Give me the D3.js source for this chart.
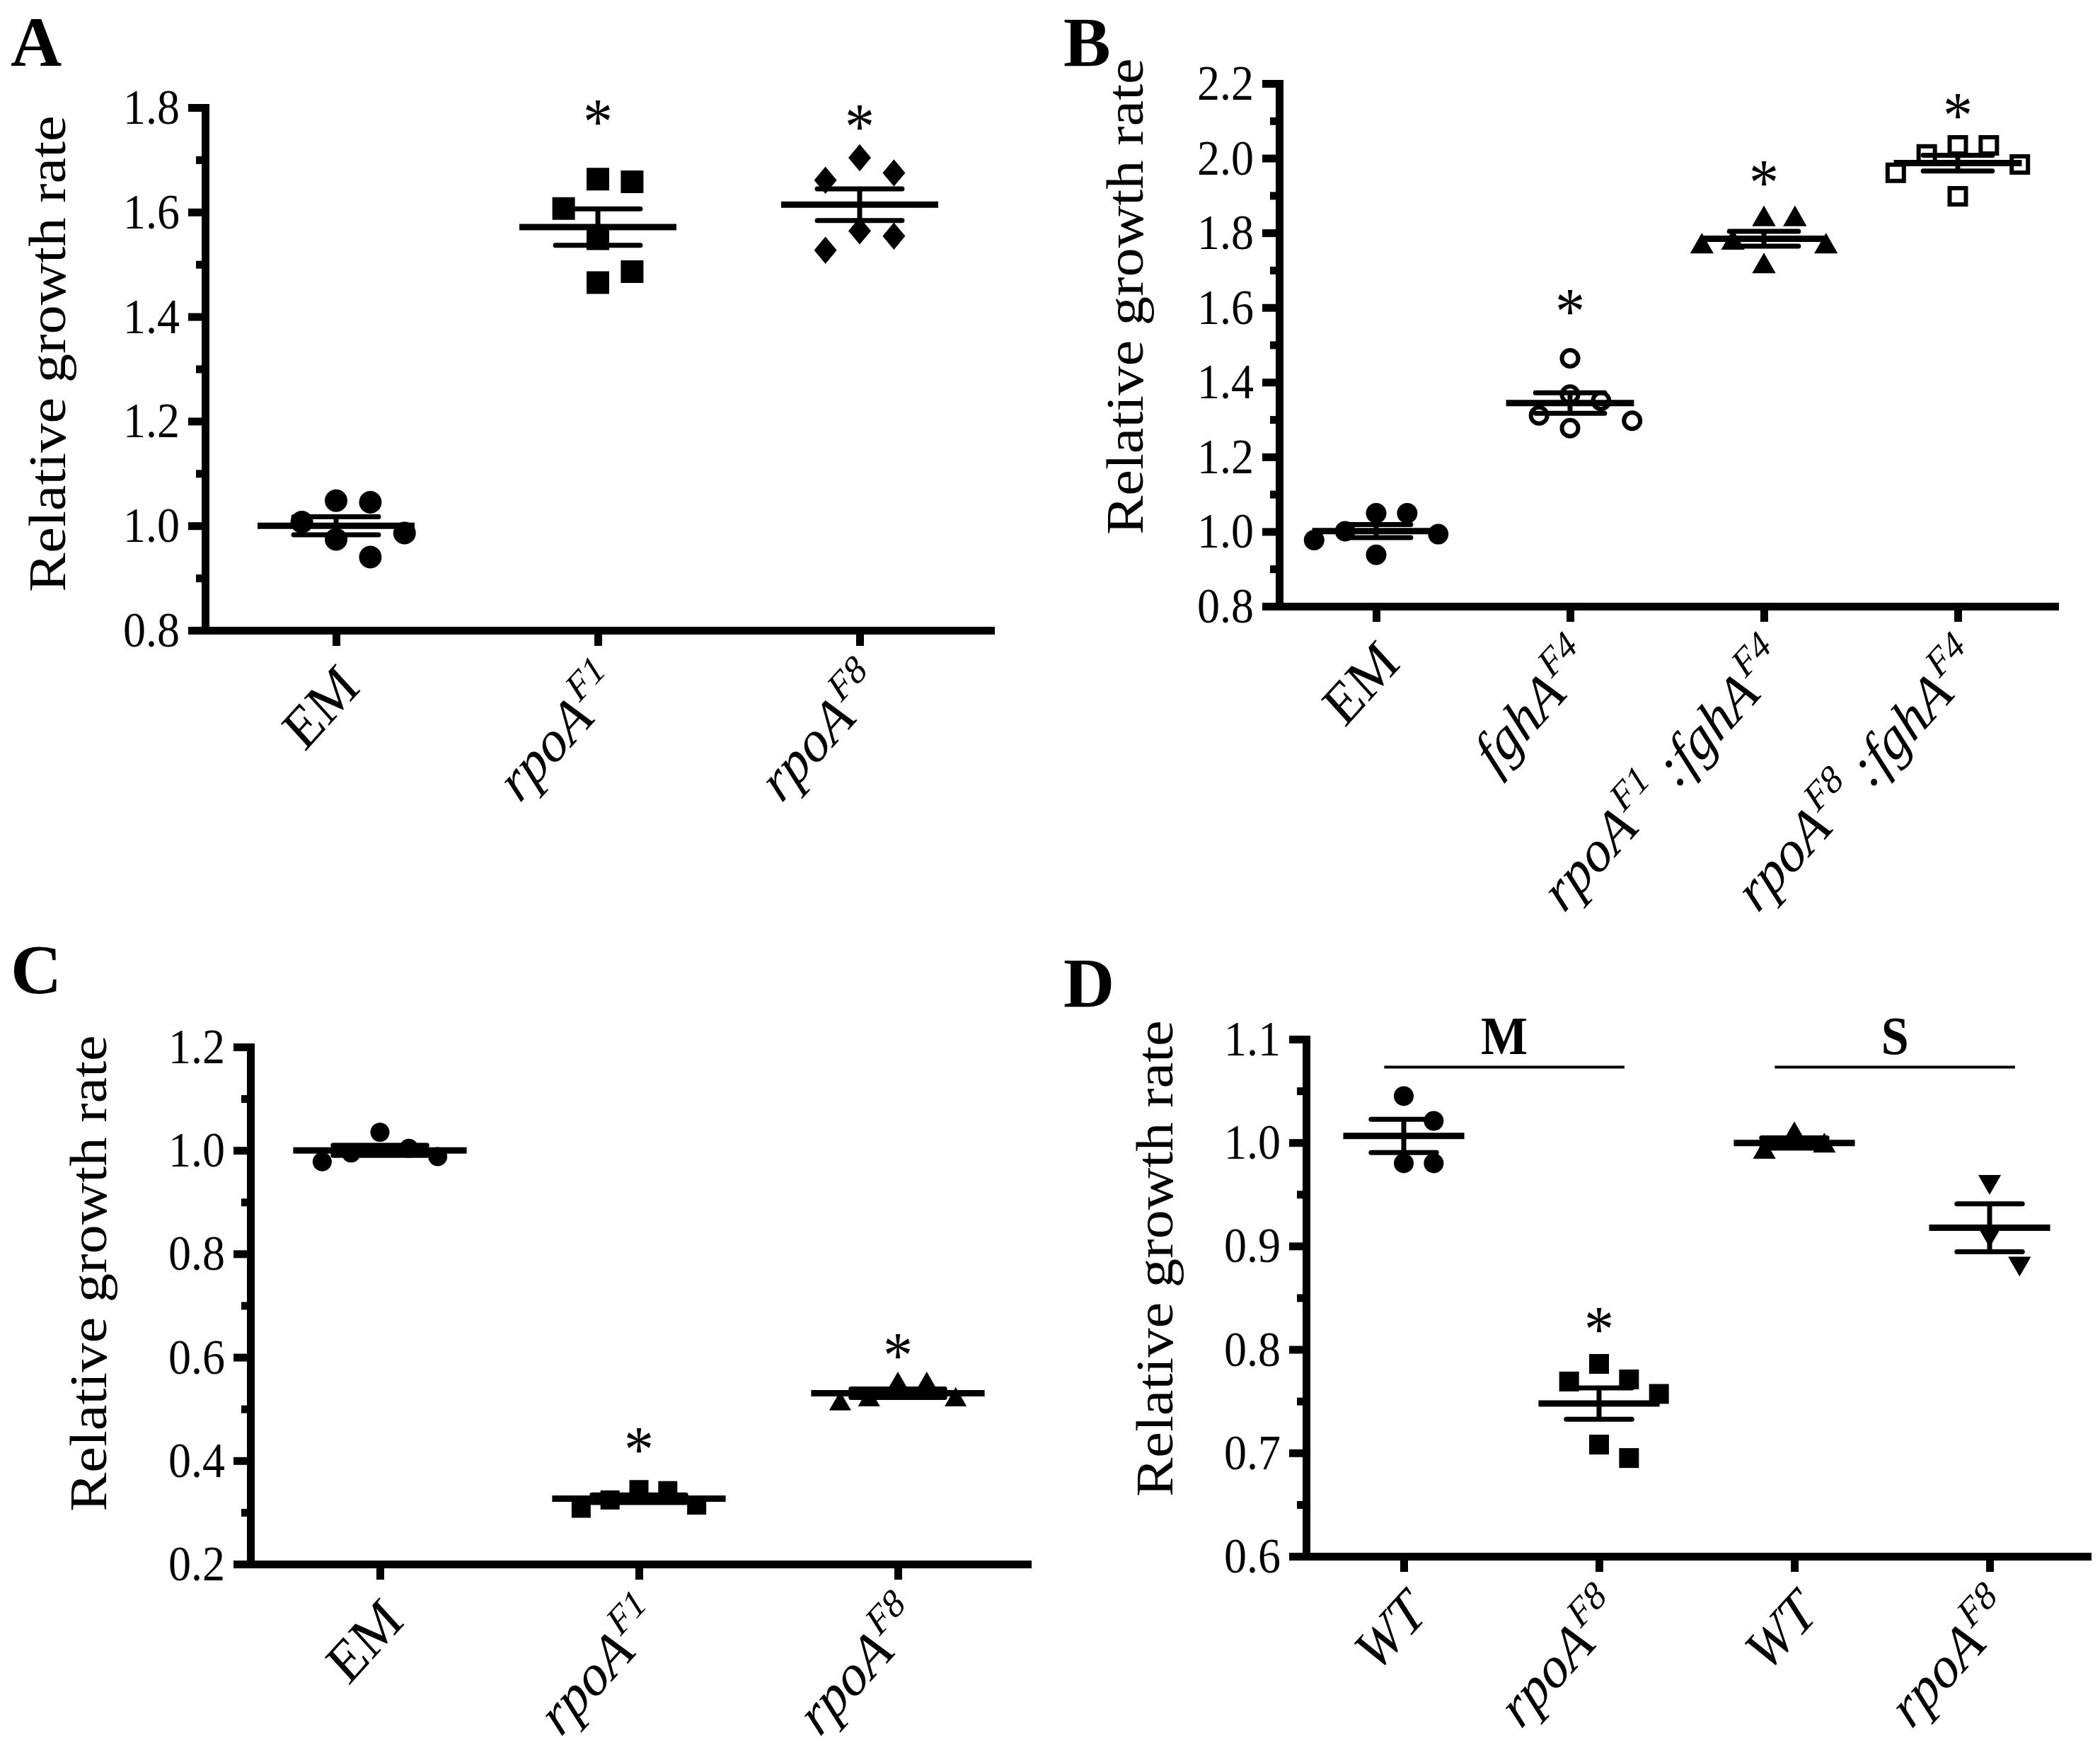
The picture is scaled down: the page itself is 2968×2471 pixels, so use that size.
<!DOCTYPE html>
<html>
<head>
<meta charset="utf-8">
<script src="https://cdn.jsdelivr.net/npm/d3@7"></script>
<style>
body { margin: 0; background: #fff; }
</style>
</head>
<body>
<script>
// relative growth rate, one value per replicate

// panel A
var catsA = ["EM", "rpoA^F1", "rpoA^F8"];
var emA = [1.045, 1.048, 1.007, 0.986, 0.974, 0.940];
var f1A = [1.658, 1.663, 1.607, 1.549, 1.486, 1.465];
var f8A = [1.704, 1.675, 1.661, 1.564, 1.554, 1.527];
var sigA = [null, 1.79, 1.78];

// panel B
var catsB = ["EM", "fghA^F4", "rpoA^F1 :fghA^F4", "rpoA^F8 :fghA^F4"];
var emB = [0.993, 1.049, 1.049, 1.001, 0.938, 0.977];
var fghB = [1.464, 1.367, 1.350, 1.311, 1.297, 1.277];
var f1fghB = [1.840, 1.840, 1.767, 1.777, 1.767, 1.714];
var f8fghB = [2.034, 2.010, 2.034, 1.983, 1.961, 1.898];
var sigB = [null, 1.614, 1.958, 2.138];

// panel C
var catsC = ["EM", "rpoA^F1", "rpoA^F8"];
var emC = [1.035, 0.995, 0.978, 0.988, 1.004];
var f1C = [0.344, 0.324, 0.308, 0.314, 0.342];
var f8C = [0.550, 0.520, 0.512, 0.520, 0.550];
var sigC = [null, 0.438, 0.62];

// panel D
var catsD = ["WT", "rpoA^F8", "WT", "rpoA^F8"];
var wtM = [1.045, 1.021, 0.980, 0.980];
var f8M = [0.786, 0.771, 0.769, 0.757, 0.708, 0.695];
var wtS = [1.009, 0.992, 0.998];
var f8S = [0.961, 0.910, 0.882];
var sigD = [null, 0.828, null, null];
var bracketsD = [{ label: "M", from: 0, to: 1, at: 1.073 }, { label: "S", from: 2, to: 3, at: 1.073 }];

var FONT = "'Liberation Serif', 'Times New Roman', serif";
var W = 2968, H = 2471;
var STRETCH = 1.1; // the figure's text is a little taller than it is wide

var svg = d3.select("body").append("svg")
    .attr("width", W)
    .attr("height", H)
    .style("background", "#fff");

// marker shapes, size given as (diameter)^2
var circleSym = { draw: function (ctx, size) { var r = Math.sqrt(size) / 2; ctx.moveTo(r, 0); ctx.arc(0, 0, r, 0, 2 * Math.PI); } };
var squareSym = { draw: function (ctx, size) { var r = Math.sqrt(size) / 2; ctx.rect(-r, -r, 2 * r, 2 * r); } };
var diamondSym = { draw: function (ctx, size) { var r = Math.sqrt(size) / 2; ctx.moveTo(0, -r * 1.2); ctx.lineTo(r, 0); ctx.lineTo(0, r * 1.2); ctx.lineTo(-r, 0); ctx.closePath(); } };
var triUpSym = { draw: function (ctx, size) { var s = Math.sqrt(size) * 1.15, h = s * 0.87; ctx.moveTo(0, -h * 0.6); ctx.lineTo(s / 2, h * 0.4); ctx.lineTo(-s / 2, h * 0.4); ctx.closePath(); } };
var triDownSym = { draw: function (ctx, size) { var s = Math.sqrt(size) * 1.15, h = s * 0.87; ctx.moveTo(0, h * 0.6); ctx.lineTo(s / 2, -h * 0.4); ctx.lineTo(-s / 2, -h * 0.4); ctx.closePath(); } };
var shapes = { circle: circleSym, square: squareSym, diamond: diamondSym, tri: triUpSym, triDown: triDownSym };

var panels = [
  { letter: "A", lx: 15, ly: 93, x0: 290, x1: 1400, yTop: 152, yBot: 891, domain: [0.8, 1.8], step: 0.2,
    cats: catsA, groups: [emA, f1A, f8A], shape: ["circle", "square", "diamond"], open: [0, 0, 0], sig: sigA,
    titleX: 92, titleY: 500, size: 32, meanW: 0.6 },
  { letter: "B", lx: 1503, ly: 93, x0: 1808, x1: 2904, yTop: 118, yBot: 857, domain: [0.8, 2.2], step: 0.2,
    cats: catsB, groups: [emB, fghB, f1fghB, f8fghB], shape: ["circle", "circle", "tri", "square"], open: [0, 1, 0, 1], sig: sigB,
    titleX: 1615, titleY: 419, size: 29, meanW: 0.66 },
  { letter: "C", lx: 15, ly: 1404, x0: 354, x1: 1452, yTop: 1480, yBot: 2211, domain: [0.2, 1.2], step: 0.2,
    cats: catsC, groups: [emC, f1C, f8C], shape: ["circle", "square", "tri"], open: [0, 0, 0], sig: sigC,
    titleX: 150, titleY: 1800, size: 27, meanW: 0.67 },
  { letter: "D", lx: 1503, ly: 1423, x0: 1846, x1: 2950, yTop: 1469, yBot: 2200, domain: [0.6, 1.1], step: 0.1,
    cats: catsD, groups: [wtM, f8M, wtS, f8S], shape: ["circle", "square", "tri", "triDown"], open: [0, 0, 0, 0], sig: sigD,
    titleX: 1657, titleY: 1779, size: 28, meanW: 0.62, brackets: bracketsD }
];

// spread points sideways so markers do not pile up (like a column scatter)
function swarm(vals, y, size) {
  var order = d3.range(vals.length).sort(function (a, b) { return vals[b] - vals[a]; });
  var placed = [];
  var off = [];
  var rowH = size * 1.5, colW = size * 1.3, stepX = size * 0.72;
  order.forEach(function (i) {
    var py = y(vals[i]);
    for (var k = 0; k < 60; k++) {
      var dx = (k % 2 ? 1 : -1) * Math.ceil(k / 2) * stepX;
      var hit = placed.some(function (p) { return Math.abs(p.y - py) < rowH && Math.abs(p.dx - dx) < colW; });
      if (!hit) { placed.push({ y: py, dx: dx }); off[i] = dx; break; }
    }
  });
  return off;
}

function addLabel(text, label, fs) {
  var parts = label.split(/(\^\w+)/);
  var raised = false;
  parts.forEach(function (part) {
    if (!part) return;
    if (part[0] === "^") {
      text.append("tspan").attr("dy", -fs * 0.42).attr("font-size", fs * 0.66).text(part.slice(1));
      raised = true;
    } else {
      var t = text.append("tspan").text(part);
      if (raised) { t.attr("dy", fs * 0.42); raised = false; }
    }
  });
}

function drawPanel(p) {
  var g = svg.append("g");
  var x = d3.scalePoint().domain(d3.range(p.cats.length)).range([p.x0, p.x1]).padding(0.5);
  var y = d3.scaleLinear().domain(p.domain).range([p.yBot, p.yTop]);
  var step = x.step();

  var majors = d3.range(p.domain[0], p.domain[1] + p.step / 2, p.step);
  var minors = majors.slice(0, -1).map(function (v) { return v + p.step / 2; });

  // panel letter
  g.append("text")
      .attr("x", p.lx)
      .attr("y", p.ly)
      .attr("font-family", FONT)
      .attr("font-weight", "bold")
      .attr("font-size", "100px")
      .text(p.letter);

  // y axis
  var yAxis = d3.axisLeft(y)
      .tickValues(majors)
      .tickSize(24)
      .tickSizeOuter(0)
      .tickPadding(12)
      .tickFormat(d3.format(".1f"));
  var ya = g.append("g").attr("transform", "translate(" + p.x0 + ",0)").call(yAxis);
  ya.select(".domain").attr("stroke-width", 11).attr("stroke-linecap", "square");
  ya.selectAll(".tick line").attr("stroke-width", 11);
  ya.selectAll(".tick text")
      .attr("font-family", FONT)
      .attr("font-size", "64px")
      .attr("transform", "scale(1," + STRETCH + ")")
      .attr("fill", "#000");

  var yMinor = d3.axisLeft(y).tickValues(minors).tickSize(13).tickSizeOuter(0).tickFormat("");
  var ym = g.append("g").attr("transform", "translate(" + p.x0 + ",0)").call(yMinor);
  ym.select(".domain").remove();
  ym.selectAll(".tick line").attr("stroke-width", 11);

  // x axis
  var xAxis = d3.axisBottom(x).tickSize(22).tickSizeOuter(0).tickFormat("");
  var xa = g.append("g").attr("transform", "translate(0," + p.yBot + ")").call(xAxis);
  xa.select(".domain").attr("stroke-width", 11).attr("stroke-linecap", "square");
  xa.selectAll(".tick line").attr("stroke-width", 11);

  // category labels, rotated
  p.cats.forEach(function (c, i) {
    var t = g.append("text")
        .attr("transform", "translate(" + (x(i) + 36) + "," + (p.yBot + 84) + ") scale(1," + STRETCH + ") rotate(-45)")
        .attr("text-anchor", "end")
        .attr("font-family", FONT)
        .attr("font-size", "76px")
        .attr("font-style", c === "EM" ? "normal" : "italic");
    addLabel(t, c, 76);
  });

  // y title
  g.append("text")
      .attr("transform", "translate(" + p.titleX + "," + p.titleY + ") scale(1," + STRETCH + ") rotate(-90)")
      .attr("text-anchor", "middle")
      .attr("font-family", FONT)
      .attr("font-size", "75px")
      .text("Relative growth rate");

  // mean +/- SEM and points
  p.groups.forEach(function (vals, i) {
    var cx = x(i);
    var m = d3.mean(vals);
    var sem = d3.deviation(vals) / Math.sqrt(vals.length);
    var mw = step * p.meanW / 2;
    var cw = step * p.meanW * 0.27;

    g.append("line")
        .attr("x1", cx - mw).attr("x2", cx + mw)
        .attr("y1", y(m)).attr("y2", y(m))
        .attr("stroke", "#000").attr("stroke-width", 9);
    g.append("line")
        .attr("x1", cx).attr("x2", cx)
        .attr("y1", y(m + sem)).attr("y2", y(m - sem))
        .attr("stroke", "#000").attr("stroke-width", 7);
    [m + sem, m - sem].forEach(function (v) {
      g.append("line")
          .attr("x1", cx - cw).attr("x2", cx + cw)
          .attr("y1", y(v)).attr("y2", y(v))
          .attr("stroke", "#000").attr("stroke-width", 7)
          .attr("stroke-linecap", "round");
    });

    var off = swarm(vals, y, p.size * 1.05);
    var open = p.open[i];
    var sym = d3.symbol().type(shapes[p.shape[i]]).size(Math.pow(open ? p.size - 6 : p.size, 2));
    g.selectAll(null)
        .data(vals)
        .enter()
        .append("path")
        .attr("d", sym)
        .attr("transform", function (d, j) { return "translate(" + (cx + off[j]) + "," + y(d) + ")"; })
        .attr("fill", open ? "none" : "#000")
        .attr("stroke", "#000")
        .attr("stroke-width", open ? 6 : 0);

    if (p.sig[i] != null) {
      g.append("text")
          .attr("transform", "translate(" + cx + "," + y(p.sig[i]) + ") scale(1," + STRETCH + ")")
          .attr("y", 84 * 0.47)
          .attr("text-anchor", "middle")
          .attr("font-family", FONT)
          .attr("font-size", "84px")
          .text("*");
    }
  });

  // group brackets (panel D)
  (p.brackets || []).forEach(function (b) {
    var xa0 = x(b.from) - step * 0.1, xa1 = x(b.to) + step * 0.13;
    g.append("line")
        .attr("x1", xa0).attr("x2", xa1)
        .attr("y1", y(b.at)).attr("y2", y(b.at))
        .attr("stroke", "#000").attr("stroke-width", 4);
    g.append("text")
        .attr("transform", "translate(" + ((xa0 + xa1) / 2) + "," + (y(b.at) - 18) + ") scale(1," + STRETCH + ")")
        .attr("text-anchor", "middle")
        .attr("font-family", FONT)
        .attr("font-weight", "bold")
        .attr("font-size", "70px")
        .text(b.label);
  });
}

panels.forEach(drawPanel);
</script>
</body>
</html>
